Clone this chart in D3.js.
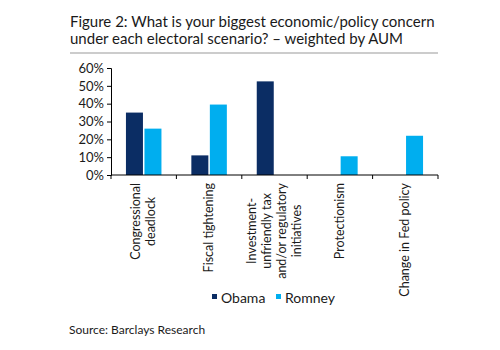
<!DOCTYPE html>
<html>
<head>
<meta charset="utf-8" />
<title>Figure 2</title>
<script src="https://d3js.org/d3.v7.min.js"></script>
<style>
  body { margin: 0; padding: 0; background: #fff; }
  svg text { font-family: Lato, "Open Sans", sans-serif; fill: #1a1a1a; }
  .axis path, .axis line { stroke: #000; }
</style>
</head>
<body>
<script>
// chart data
var categories = [
  ["Congressional", "deadlock"],
  ["Fiscal tightening"],
  ["Investment-", "unfriendly tax", "and/or regulatory", "initiatives"],
  ["Protectionism"],
  ["Change in Fed policy"]
];
var obama = [35, 11, 52.5, 0, 0];
var romney = [26, 39.5, 0, 10.5, 22];
var seriesNames = ["Obama", "Romney"];
var yTicks = [0, 10, 20, 30, 40, 50, 60];

var colors = ["#0b2d64", "#00aeef"];

var width = 500, height = 350;
var svg = d3.select("body").append("svg")
  .attr("width", width)
  .attr("height", height);

// title
svg.append("text").attr("x", 70).attr("y", 27)
  .style("font-size", "15px")
  .text("Figure 2: What is your biggest economic/policy concern");
svg.append("text").attr("x", 70).attr("y", 44)
  .style("font-size", "15px")
  .text("under each electoral scenario? \u2013 weighted by AUM");
svg.append("line")
  .attr("x1", 70).attr("x2", 438).attr("y1", 53).attr("y2", 53)
  .attr("stroke", "#999").attr("stroke-width", 1);

var plot = { left: 111, right: 438, top: 68, bottom: 175 };

var x = d3.scaleBand()
  .domain(d3.range(categories.length))
  .range([plot.left, plot.right]);

var y = d3.scaleLinear()
  .domain([0, 60])
  .range([plot.bottom, plot.top]);

var barW = 17, gap = 1.5;

var data = categories.map(function(c, i) {
  return { i: i, vals: [obama[i], romney[i]] };
});

svg.selectAll(".cat")
  .data(data)
  .enter().append("g")
  .attr("class", "cat")
  .selectAll("rect")
  .data(function(d) { return d.vals.map(function(v, s) { return { i: d.i, s: s, v: v }; }); })
  .enter().append("rect")
  .filter(function(d) { return d.v > 0; })
  .attr("x", function(d) {
    var c = x(d.i) + x.bandwidth() / 2;
    return d.s === 0 ? c - gap / 2 - barW : c + gap / 2;
  })
  .attr("width", barW)
  .attr("y", function(d) { return y(d.v); })
  .attr("height", function(d) { return y(0) - y(d.v); })
  .attr("fill", function(d) { return colors[d.s]; });

// y axis
var yAxis = svg.append("g")
  .attr("class", "axis")
  .attr("transform", "translate(" + plot.left + ",0)")
  .call(d3.axisLeft(y).tickValues(yTicks).tickSize(4).tickFormat(function(d) { return d + "%"; }));
yAxis.selectAll("text").style("font-size", "13px").attr("x", -7);

// x axis with ticks at category boundaries
var xAxis = svg.append("g").attr("class", "axis");
xAxis.append("line")
  .attr("x1", plot.left).attr("x2", plot.right)
  .attr("y1", plot.bottom).attr("y2", plot.bottom)
  .attr("stroke", "#000");
xAxis.selectAll(".xt")
  .data(d3.range(categories.length + 1))
  .enter().append("line")
  .attr("x1", function(i) { return plot.left + i * x.step(); })
  .attr("x2", function(i) { return plot.left + i * x.step(); })
  .attr("y1", plot.bottom).attr("y2", plot.bottom + 4)
  .attr("stroke", "#000");

// rotated category labels, each block centred under its band, text end near the axis
var lineH = 15;
svg.selectAll(".xlab")
  .data(categories)
  .enter().append("text")
  .attr("class", "xlab")
  .attr("transform", function(d, i) {
    var cx = x(i) + x.bandwidth() / 2;
    var off = (d.length - 1) * lineH / 2;
    return "translate(" + (cx - off + 4) + "," + 183 + ") rotate(-90)";
  })
  .attr("text-anchor", "end")
  .style("font-size", "12.5px")
  .each(function(d) {
    var t = d3.select(this);
    d.forEach(function(line, k) {
      t.append("tspan").attr("x", 0).attr("y", k * lineH).text(line);
    });
    var lens = [];
    t.selectAll("tspan").each(function() { lens.push(this.getComputedTextLength()); });
    var maxL = d3.max(lens);
    t.selectAll("tspan").attr("x", function(_, k) { return -(maxL - lens[k]) / 2; });
  });

// legend
var legend = svg.append("g").attr("transform", "translate(212,298)");
var lx = [0, 64];
seriesNames.forEach(function(name, s) {
  legend.append("rect")
    .attr("x", lx[s]).attr("y", -4)
    .attr("width", 5).attr("height", 5)
    .attr("fill", colors[s]);
  legend.append("text")
    .attr("x", lx[s] + 9).attr("y", 3)
    .attr("dy", "0.15em")
    .style("font-size", "14px")
    .text(name);
});

// source
svg.append("text").attr("x", 69).attr("y", 334)
  .style("font-size", "12px")
  .text("Source: Barclays Research");
</script>
</body>
</html>
